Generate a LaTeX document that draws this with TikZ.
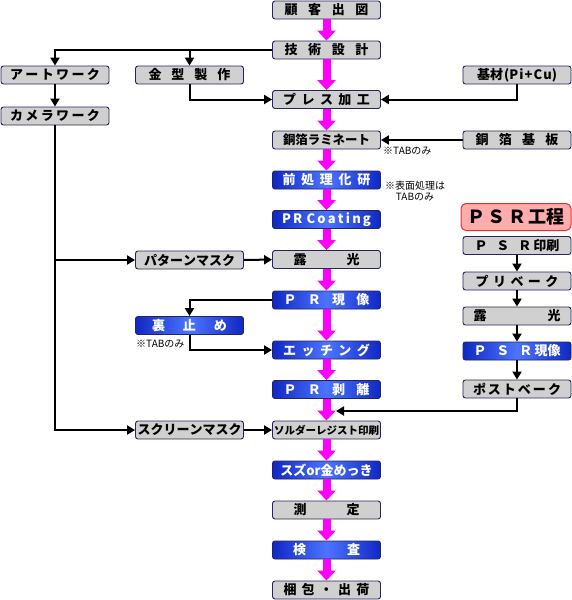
\documentclass[tikz,border=0pt]{standalone}
\usepackage{fontspec}
\setmainfont{Noto Sans CJK JP}
\usetikzlibrary{arrows.meta,positioning}
\definecolor{boxgrey}{RGB}{208,208,208}
\definecolor{boxline}{RGB}{36,36,96}
\definecolor{deepblue}{RGB}{16,40,196}
\definecolor{lightblue}{RGB}{76,116,255}
\definecolor{psrpink}{RGB}{255,172,172}
\definecolor{psrred}{RGB}{225,50,50}
\definecolor{flowpink}{RGB}{255,0,255}
\newcommand{\spread}[2]{\makebox[#1]{#2}}

\begin{document}
\begin{tikzpicture}[x=1pt,y=-1pt,
  gbox/.style={draw=boxline,line width=0.9pt,fill=boxgrey,rounded corners=2.5pt,minimum width=108pt,minimum height=18pt,inner sep=0pt,font=\bfseries\fontsize{13}{13}\selectfont},
  bbox/.style={gbox,left color=deepblue,right color=deepblue,middle color=lightblue,text=white},
  pbox/.style={draw=psrred,line width=1pt,fill=psrpink,rounded corners=5pt,minimum width=110pt,minimum height=27pt,inner sep=0pt,font=\bfseries\fontsize{18}{18}\selectfont},
  flow/.style={flowpink,line width=8pt,-{Triangle[width=18pt,length=10pt 0 0]}},
  link/.style={black,line width=2pt,-{Triangle[width=9pt,length=8pt 0 0]}},
  note/.style={font=\fontsize{10}{11}\selectfont,inner sep=0pt}]
  \useasboundingbox (0,0) rectangle (572,600);

  \node[gbox] (kokyaku) at (326.5,10) {\spread{84pt}{顧\hfill 客\hfill 出\hfill 図}};
  \node[gbox] (gijutsu) at (326.5,50) {\spread{84pt}{技\hfill 術\hfill 設\hfill 計}};
  \node[gbox] (press) at (326.5,99.5) {\spread{87pt}{プ\hfill レ\hfill ス\hfill 加\hfill 工}};
  \node[gbox,font=\bfseries\fontsize{12.4}{12.4}\selectfont] (lami) at (326.5,140) {\spread{87pt}{銅\hfill 箔\hfill ラ\hfill ミ\hfill ネ\hfill ー\hfill ト}};
  \node[bbox] (maeshori) at (326.5,180) {\spread{88pt}{前\hfill 処\hfill 理\hfill 化\hfill 研}};
  \node[bbox] (coating) at (326.5,219.5) {\spread{89pt}{P\hfill R\hfill\hfill C\hfill o\hfill a\hfill t\hfill i\hfill n\hfill g}};
  \node[gbox] (roko) at (326.5,259.5) {\spread{66pt}{露\hfill 光}};
  \node[bbox] (prgen) at (326.5,300) {\spread{86pt}{Ｐ\hfill Ｒ\hfill 現\hfill 像}};
  \node[bbox] (etching) at (326.5,350) {\spread{87pt}{エ\hfill ッ\hfill チ\hfill ン\hfill グ}};
  \node[bbox] (hakuri) at (326.5,389.5) {\spread{86pt}{Ｐ\hfill Ｒ\hfill 剥\hfill 離}};
  \node[gbox,font=\bfseries\fontsize{10.5}{10.5}\selectfont] (solder) at (326.5,430) {\spread{104pt}{ソルダーレジスト印刷}};
  \node[bbox] (mekki) at (326.5,470) {スズor金めっき};
  \node[gbox] (sokutei) at (326.5,510) {\spread{66pt}{測\hfill 定}};
  \node[bbox] (kensa) at (326.5,550) {\spread{67pt}{検\hfill 査}};
  \node[gbox] (konpo) at (326.5,590) {\spread{86pt}{梱\hfill 包\hfill ・\hfill 出\hfill 荷}};

  \node[gbox] (art) at (55,75) {\spread{90pt}{ア\hfill ー\hfill ト\hfill ワ\hfill ー\hfill ク}};
  \node[gbox] (camera) at (55,116) {\spread{90pt}{カ\hfill メ\hfill ラ\hfill ワ\hfill ー\hfill ク}};
  \node[gbox] (kanagata) at (189.5,75) {\spread{82pt}{金\hfill 型\hfill 製\hfill 作}};
  \node[gbox] (pattern) at (189.5,260) {\spread{88pt}{パ\hfill タ\hfill ー\hfill ン\hfill マ\hfill ス\hfill ク}};
  \node[bbox] (uradome) at (189.5,325.5) {\spread{75pt}{裏\hfill 止\hfill め}};
  \node[gbox] (screen) at (189.5,430) {\spread{94pt}{ス\hfill ク\hfill リ\hfill ー\hfill ン\hfill マ\hfill ス\hfill ク}};

  \node[gbox] (kizai) at (517,75) {\spread{80pt}{基材\hfill (P\hfill i\hfill +\hfill C\hfill u)}};
  \node[gbox] (douhaku) at (517,140) {\spread{83pt}{銅\hfill 箔\hfill 基\hfill 板}};
  \node[pbox] (psr) at (516,217) {\spread{98pt}{Ｐ\hfill Ｓ\hfill Ｒ\hfill 工程}};
  \node[gbox] (psrprint) at (517,245.5) {\spread{85pt}{Ｐ\hfill Ｓ\hfill Ｒ\,印刷}};
  \node[gbox] (prebake) at (517,281) {\spread{83pt}{プ\hfill リ\hfill ベ\hfill ー\hfill ク}};
  \node[gbox] (roko2) at (517,316) {\spread{87pt}{露\hfill 光}};
  \node[bbox] (psrgen) at (517,351) {\spread{87pt}{Ｐ\hfill Ｓ\hfill Ｒ\,現像}};
  \node[gbox] (postbake) at (517,389) {\spread{88pt}{ポ\hfill ス\hfill ト\hfill ベ\hfill ー\hfill ク}};

  \node[note,anchor=west] (note1) at (383,151) {※TABのみ};
  \node[note,align=center] (note2) at (415,191) {※表面処理は\\TABのみ};
  \node[note,anchor=west] (note3) at (136,344) {※TABのみ};
  \coordinate (psrin) at (336,411);

  \path[flow]
    (kokyaku) edge (gijutsu)
    (gijutsu) edge (press)
    (press) edge (lami)
    (lami) edge (maeshori)
    (maeshori) edge (coating)
    (coating) edge (roko)
    (roko) edge (prgen)
    (prgen) edge (etching)
    (etching) edge (hakuri)
    (hakuri) edge (solder)
    (solder) edge (mekki)
    (mekki) edge (sokutei)
    (sokutei) edge (kensa)
    (kensa) edge (konpo);

  \draw[link] (gijutsu.west) -| (art.north);
  \draw[link] (kanagata.north |- gijutsu.west) -- (kanagata.north);
  \draw[link] (kanagata.south) |- (press.west);
  \draw[link] (kizai.south) |- (press.east);
  \draw[link] (camera.south) |- (screen.west);
  \draw[link] (camera.south |- pattern.west) -- (pattern.west);
  \draw[link] (prgen.west) -| (uradome.north);
  \draw[link] (uradome.south) |- (etching.west);
  \draw[link] (postbake.south) |- (psrin);
  \path[link]
    (douhaku) edge (lami)
    (art) edge (camera)
    (pattern) edge (roko)
    (screen) edge (solder)
    (psrprint) edge (prebake)
    (prebake) edge (roko2)
    (roko2) edge (psrgen)
    (psrgen) edge (postbake);
\end{tikzpicture}
\end{document}
